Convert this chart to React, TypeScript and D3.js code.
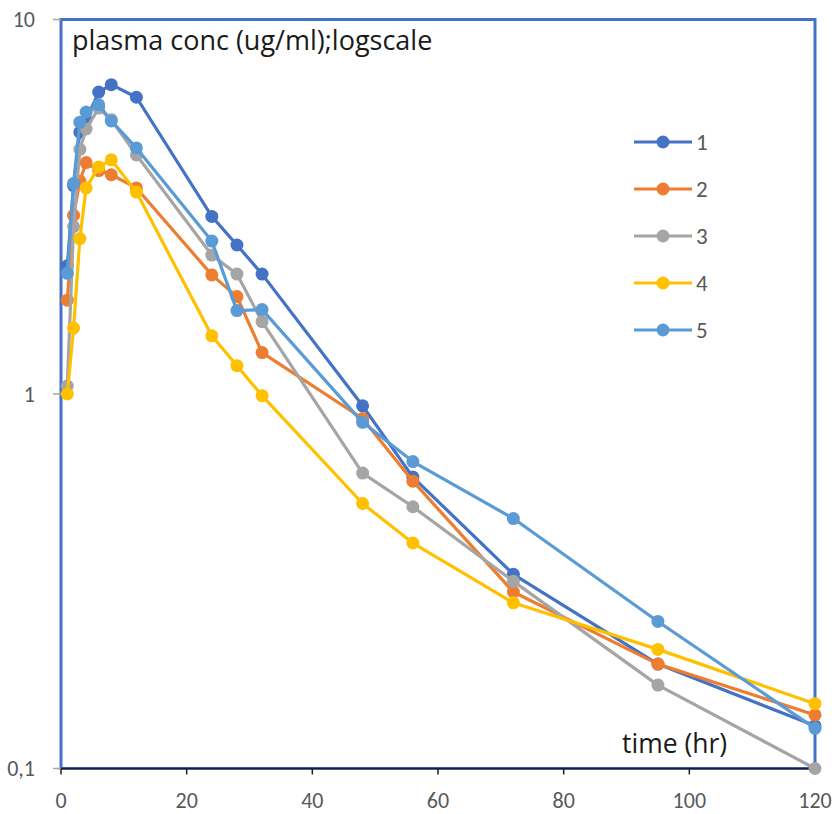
import React from "react";
import * as d3 from "d3";

const times = [1, 2, 3, 4, 6, 8, 12, 24, 28, 32, 48, 56, 72, 95, 120];
const s1 = [2.2, 3.6, 5.0, 5.4, 6.4, 6.7, 6.2, 2.98, 2.5, 2.09, 0.93, 0.6, 0.33, 0.19, 0.13];
const s2 = [1.78, 3.0, 3.7, 4.15, 3.95, 3.85, 3.55, 2.08, 1.82, 1.29, 0.86, 0.585, 0.296, 0.19, 0.139];
const s3 = [1.05, 2.8, 4.5, 5.1, 5.8, 5.4, 4.35, 2.35, 2.09, 1.56, 0.615, 0.5, 0.316, 0.167, 0.1];
const s4 = [1.0, 1.5, 2.6, 3.55, 4.04, 4.22, 3.46, 1.43, 1.19, 0.99, 0.51, 0.4, 0.277, 0.208, 0.149];
const s5 = [2.1, 3.65, 5.32, 5.66, 5.92, 5.36, 4.54, 2.56, 1.67, 1.68, 0.84, 0.66, 0.465, 0.247, 0.128];
const seriesNames = ["1", "2", "3", "4", "5"];
const seriesValues = [s1, s2, s3, s4, s5];
const colors = ["#4472C4", "#ED7D31", "#A5A5A5", "#FFC000", "#5B9BD5"];
const xTicks = [0, 20, 40, 60, 80, 100, 120];
const yTicks = [0.1, 1, 10];
const yTickLabels = ["0,1", "1", "10"];
const title = "plasma conc (ug/ml);logscale";
const xTitle = "time (hr)";

const W = 835;
const H = 814;
const FONT = "Carlito, Calibri, Lato, sans-serif";
const TFONT = "'Open Sans', sans-serif";

export default function App() {
  const x = d3.scaleLinear().domain([0, 120]).range([61, 815]);
  const y = d3.scaleLog().domain([0.1, 10]).range([768.5, 19.5]);
  const line = d3
    .line<[number, number]>()
    .x((d) => x(d[0]))
    .y((d) => y(d[1]));

  const [x0, x1] = x.range();
  const [yb, yt] = y.range();

  return (
    <svg width={W} height={H} style={{ position: "absolute", left: 0, top: 0, background: "#fff" }}>
      <rect x={0} y={0} width={W} height={H} fill="#fff" />
      <rect x={x0} y={yt} width={x1 - x0} height={yb - yt} fill="none" stroke="#4472C4" strokeWidth={3} />
      <line x1={x0} x2={x1} y1={yb} y2={yb} stroke="#1f1f1f" strokeWidth={1.5} />
      {xTicks.map((t) => (
        <g key={t}>
          <line x1={x(t)} x2={x(t)} y1={yb} y2={yb + 6} stroke="#1f1f1f" strokeWidth={1.5} />
          <text x={x(t)} y={808} textAnchor="middle" fontFamily={FONT} fontSize={22} fill="#595959">
            {t}
          </text>
        </g>
      ))}
      {yTicks.map((t, i) => (
        <g key={t}>
          <line x1={x0 - 8} x2={x0} y1={y(t)} y2={y(t)} stroke="#A6A6A6" strokeWidth={1.5} />
          <text x={35} y={y(t)} dy="0.35em" textAnchor="end" fontFamily={FONT} fontSize={22} fill="#595959">
            {yTickLabels[i]}
          </text>
        </g>
      ))}
      {seriesValues.map((vals, si) => {
        const pts: [number, number][] = times.map((t, i) => [t, vals[i]]);
        return (
          <g key={si}>
            <path d={line(pts) || ""} fill="none" stroke={colors[si]} strokeWidth={3.2} strokeLinejoin="round" />
            {pts.map((p, i) => (
              <circle key={i} cx={x(p[0])} cy={y(p[1])} r={6.5} fill={colors[si]} />
            ))}
          </g>
        );
      })}
      <text x={72} y={50} fontFamily={TFONT} fontSize={27} fill="#1a1a1a">
        {title}
      </text>
      <text x={622} y={753} fontFamily={TFONT} fontSize={26.5} fill="#1a1a1a">
        {xTitle}
      </text>
      {seriesNames.map((n, i) => {
        const ly = 142 + i * 47;
        return (
          <g key={n}>
            <line x1={634} x2={692} y1={ly} y2={ly} stroke={colors[i]} strokeWidth={3.2} />
            <circle cx={663} cy={ly} r={6.5} fill={colors[i]} />
            <text x={696} y={ly} dy="0.35em" fontFamily={FONT} fontSize={23} fill="#595959">
              {n}
            </text>
          </g>
        );
      })}
    </svg>
  );
}
